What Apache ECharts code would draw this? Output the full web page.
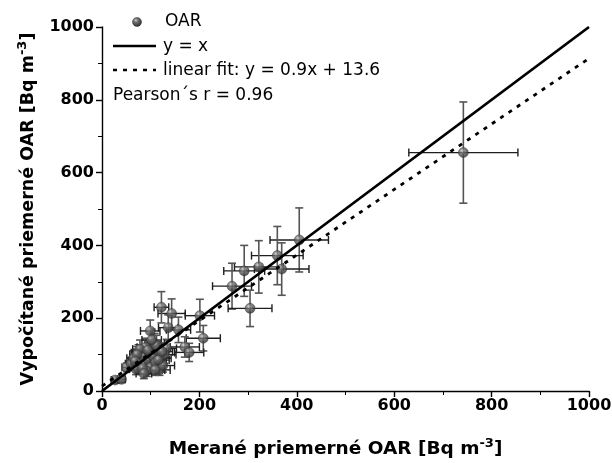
<!DOCTYPE html>
<html><head><meta charset="utf-8">
<script src="https://cdn.jsdelivr.net/npm/echarts@6/dist/echarts.min.js"></script>
<style>html,body{margin:0;padding:0;background:#fff}#c{width:612px;height:463px}</style>
</head><body><div id="c"></div>
<script>
// Measured OAR (x), calculated OAR (y), errors
const measured   = [742,405,360,322,369,292,267,304,201,208,170,179,143,122, 99,136,157,133, 27, 40, 51, 60, 65, 70, 75, 80, 85, 88, 90, 95, 98,100,105,108,110,115,118,120,125, 78, 72, 92,112,128, 83,102,116,109, 68, 94, 86,123];
const calculated = [655,415,372,341,335,330,288,227,207,145,121,106,213,230,165,174,168,117, 30, 32, 65, 75, 90, 60,105, 80, 95, 70,120, 85,105, 65, 95,130, 78,110, 58, 90, 70,115,100, 55,125,100, 62,140, 85, 58, 82,112, 48,108];
const errMeasured   = [112, 60, 53, 50, 56, 42, 40, 45, 30, 35, 30, 30, 28, 15, 20, 20, 25, 20,  8,  8, 10, 12, 14, 14, 15, 16, 16, 18, 18, 18, 20, 20, 20, 20, 22, 22, 22, 22, 24, 15, 15, 18, 20, 24, 16, 20, 22, 20, 14, 18, 16, 22];
const errCalculated = [139, 88, 80, 72, 72, 70, 63, 50, 45, 35, 28, 25, 40, 43, 30, 35, 35, 25,  8,  8, 12, 18, 20, 15, 22, 20, 22, 18, 25, 20, 25, 18, 22, 28, 20, 25, 15, 22, 18, 25, 22, 15, 28, 24, 16, 30, 20, 15, 18, 24, 14, 24];
const xTicks = [0,200,400,600,800,1000];
const yTicks = [0,200,400,600,800,1000];
const fitSlope = 0.9, fitIntercept = 13.6;
const axisRange = [0,1000];
const legendLabels = ['OAR','y = x','linear fit: y = 0.9x + 13.6','Pearson´s r = 0.96'];

const pts = measured.map((x,i)=>[x, calculated[i], errMeasured[i], errCalculated[i]]);
const identityLine = axisRange.map(v=>[v,v]);
const fitLine = axisRange.map(v=>[v, fitSlope*v+fitIntercept]);

const font = '"DejaVu Sans", sans-serif';
const chart = echarts.init(document.getElementById('c'), null, {renderer:'canvas'});

const ballColor = new echarts.graphic.RadialGradient(0.38,0.32,0.7,[
  {offset:0,color:'#d0d0d0'},{offset:0.3,color:'#727272'},{offset:1,color:'#2a2a2a'}]);

const titleRich = {s:{fontFamily:font,fontWeight:'bold',fontSize:13,color:'#000',verticalAlign:'top',padding:[0,0,12,0]}};

chart.setOption({
  animation:false,
  backgroundColor:'#fff',
  grid:{left:102,right:23,top:27,bottom:72,containLabel:false,outerBoundsMode:'none'},
  xAxis:{type:'value',min:0,max:1000,interval:200,
    name:'Merané priemerné OAR [Bq m{s|-3}]',nameLocation:'middle',nameGap:46,
    nameTextStyle:{fontFamily:font,fontWeight:'bold',fontSize:18.5,color:'#000',padding:[0,20,0,0],rich:titleRich},
    axisLine:{lineStyle:{color:'#000',width:1.4}},
    axisTick:{inside:false,length:6,lineStyle:{color:'#000',width:1.4}},
    minorTick:{show:true,splitNumber:2,length:4,lineStyle:{color:'#000',width:1}},
    axisLabel:{fontFamily:font,fontWeight:'bold',fontSize:16,color:'#000',margin:7,
      formatter:v=>xTicks.includes(v)?String(v):''},
    splitLine:{show:false}},
  yAxis:{type:'value',min:0,max:1000,interval:200,
    name:'Vypočítané priemerné OAR [Bq m{s|-3}]',nameLocation:'middle',nameGap:61,nameRotate:90,
    nameTextStyle:{fontFamily:font,fontWeight:'bold',fontSize:17.5,color:'#000',rich:titleRich},
    axisLine:{show:true,lineStyle:{color:'#000',width:1.4}},
    axisTick:{show:true,inside:false,length:6,lineStyle:{color:'#000',width:1.4}},
    minorTick:{show:true,splitNumber:2,length:4,lineStyle:{color:'#000',width:1}},
    axisLabel:{fontFamily:font,fontWeight:'bold',fontSize:16,color:'#000',margin:8,
      formatter:v=>yTicks.includes(v)?String(v):''},
    splitLine:{show:false}},
  graphic:[
    {type:'circle',shape:{cx:137,cy:22,r:4.5},style:{fill:ballColor,stroke:'#333',lineWidth:0.5}},
    {type:'text',x:165,y:22,style:{text:legendLabels[0],fontFamily:font,fontSize:17,fill:'#000',verticalAlign:'middle'}},
    {type:'line',shape:{x1:113,y1:46,x2:156,y2:46},style:{stroke:'#000',lineWidth:2.6}},
    {type:'text',x:163,y:47,style:{text:legendLabels[1],fontFamily:font,fontSize:17,fill:'#000',verticalAlign:'middle'}},
    {type:'line',shape:{x1:113,y1:70,x2:156,y2:70},style:{stroke:'#000',lineWidth:2.6,lineDash:[4,6]}},
    {type:'text',x:163,y:71,style:{text:legendLabels[2],fontFamily:font,fontSize:17,fill:'#000',verticalAlign:'middle'}},
    {type:'text',x:113,y:96,style:{text:legendLabels[3],fontFamily:font,fontSize:17,fill:'#000',verticalAlign:'middle'}}
  ],
  series:[
    {name:'errors',type:'custom',data:pts,z:2,
      renderItem:function(params,api){
        const x=api.value(0),y=api.value(1),ex=api.value(2),ey=api.value(3);
        const l=api.coord([x-ex,y]), r=api.coord([x+ex,y]);
        const t=api.coord([x,y+ey]), b=api.coord([x,y-ey]);
        const cap=4;
        const vs={stroke:'#555',lineWidth:1.6}, hs={stroke:'#1e1e1e',lineWidth:1.4};
        return {type:'group',children:[
          {type:'line',shape:{x1:t[0],y1:t[1],x2:b[0],y2:b[1]},style:vs},
          {type:'line',shape:{x1:t[0]-cap,y1:t[1],x2:t[0]+cap,y2:t[1]},style:vs},
          {type:'line',shape:{x1:b[0]-cap,y1:b[1],x2:b[0]+cap,y2:b[1]},style:vs},
          {type:'line',shape:{x1:l[0],y1:l[1],x2:r[0],y2:r[1]},style:hs},
          {type:'line',shape:{x1:l[0],y1:l[1]-cap,x2:l[0],y2:l[1]+cap},style:hs},
          {type:'line',shape:{x1:r[0],y1:r[1]-cap,x2:r[0],y2:r[1]+cap},style:hs}
        ]};
      }},
    {name:'OAR',type:'scatter',data:pts.map(p=>[p[0],p[1]]),symbolSize:10,z:3,
      itemStyle:{color:ballColor,borderColor:'#2a2a2a',borderWidth:0.5}},
    {name:'y = x',type:'line',data:identityLine,showSymbol:false,symbol:'none',z:4,
      lineStyle:{color:'#000',width:2.8}},
    {name:'linear fit: y = 0.9x + 13.6',type:'line',data:fitLine,showSymbol:false,symbol:'none',z:4,
      lineStyle:{color:'#000',width:2.8,type:[4,6]}}
  ]
});
</script></body></html>
